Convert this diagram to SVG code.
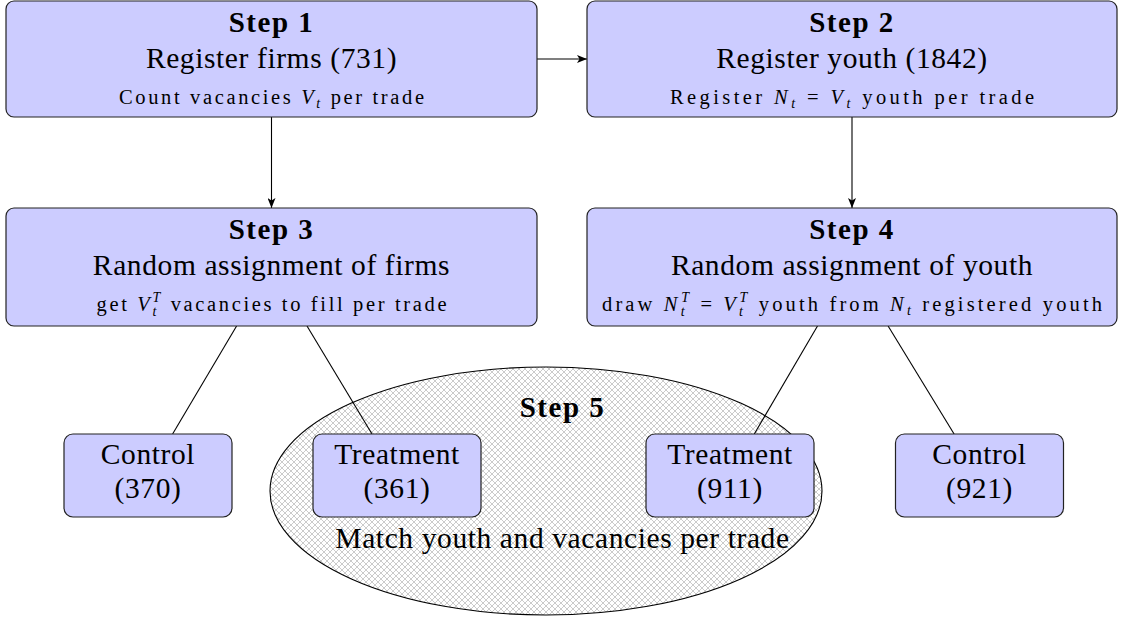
<svg xmlns="http://www.w3.org/2000/svg" width="1121" height="618" viewBox="0 0 1121 618">
<defs>
<style>
.box{fill:#ccccff;stroke:#222;stroke-width:1.2}
.t{font-family:"Liberation Serif",serif;fill:#000;text-anchor:middle}
.b{font-size:29px;font-weight:bold;letter-spacing:1.5px}
.m{font-size:29.5px;letter-spacing:0.6px}
.s{font-size:20.5px}
.it{font-style:italic}
.sb{font-size:14px;font-style:italic}
.ln{stroke:#000;stroke-width:1.1;fill:none}
</style>
<pattern id="hatch" width="6" height="6" patternUnits="userSpaceOnUse">
<rect width="6" height="6" fill="#fff"/>
<path d="M0,0L6,6M0,6L6,0" stroke="#b4b4b4" stroke-width="0.7"/>
</pattern>
<marker id="arr" viewBox="0 0 10 8" refX="10" refY="4" markerWidth="10" markerHeight="8" markerUnits="userSpaceOnUse" orient="auto">
<path d="M0,0L10,4L0,8L2.5,4Z" fill="#000"/>
</marker>
</defs>
<g id="step5">
<ellipse cx="546" cy="491" rx="276" ry="124" fill="url(#hatch)" stroke="#000" stroke-width="1.1"/>
<text class="t b" x="562.5" y="417">Step 5</text>
<text class="t m" x="562.5" y="548">Match youth and vacancies per trade</text>
</g>
<g id="connectors">
<line class="ln" x1="537" y1="59" x2="587" y2="59" marker-end="url(#arr)"/>
<line class="ln" x1="271.5" y1="117" x2="271.5" y2="208" marker-end="url(#arr)"/>
<line class="ln" x1="852" y1="117" x2="852" y2="208" marker-end="url(#arr)"/>
<line class="ln" x1="236.6" y1="326" x2="172.6" y2="434"/>
<line class="ln" x1="307" y1="326" x2="372" y2="434"/>
<line class="ln" x1="817.5" y1="326" x2="754.3" y2="434"/>
<line class="ln" x1="888.1" y1="326" x2="954.1" y2="434"/>
</g>
<g id="step1">
<rect class="box" x="6" y="1" width="531" height="116" rx="8"/>
<text class="t b" x="271.5" y="32">Step 1</text>
<text class="t m" x="271.5" y="68">Register firms (731)</text>
<text class="t s" x="271.5" y="104" textLength="305">Count vacancies <tspan class="it">V</tspan><tspan class="sb" dy="4">t</tspan><tspan dy="-4"> per trade</tspan></text>
</g>
<g id="step2">
<rect class="box" x="587" y="1" width="530" height="116" rx="8"/>
<text class="t b" x="852" y="32">Step 2</text>
<text class="t m" x="852" y="68">Register youth (1842)</text>
<text class="t s" x="852" y="104" textLength="364">Register <tspan class="it">N</tspan><tspan class="sb" dy="4">t</tspan><tspan dy="-4"> = </tspan><tspan class="it">V</tspan><tspan class="sb" dy="4">t</tspan><tspan dy="-4"> youth per trade</tspan></text>
</g>
<g id="step3">
<rect class="box" x="6" y="208" width="531" height="118" rx="8"/>
<text class="t b" x="271.5" y="239">Step 3</text>
<text class="t m" x="271.5" y="275">Random assignment of firms</text>
<text class="t s" x="271.5" y="311" textLength="350">get <tspan class="it">V</tspan><tspan class="sb" dy="5">t</tspan><tspan class="sb" dx="-6.5" dy="-14">T</tspan><tspan dy="9"> vacancies to fill per trade</tspan></text>
</g>
<g id="step4">
<rect class="box" x="587" y="208" width="530" height="118" rx="8"/>
<text class="t b" x="852" y="239">Step 4</text>
<text class="t m" x="852" y="275">Random assignment of youth</text>
<text class="t s" x="852" y="311" textLength="500">draw <tspan class="it">N</tspan><tspan class="sb" dy="5">t</tspan><tspan class="sb" dx="-6.5" dy="-14">T</tspan><tspan dy="9"> = </tspan><tspan class="it">V</tspan><tspan class="sb" dy="5">t</tspan><tspan class="sb" dx="-6.5" dy="-14">T</tspan><tspan dy="9"> youth from </tspan><tspan class="it">N</tspan><tspan class="sb" dy="4">t</tspan><tspan dy="-4"> registered youth</tspan></text>
</g>
<g id="control1">
<rect class="box" x="64" y="434" width="168" height="83" rx="9"/>
<text class="t m" x="148" y="464">Control</text>
<text class="t m" x="148" y="498">(370)</text>
</g>
<g id="treatment1">
<rect class="box" x="313" y="434" width="168" height="83" rx="9"/>
<text class="t m" x="397" y="464">Treatment</text>
<text class="t m" x="397" y="498">(361)</text>
</g>
<g id="treatment2">
<rect class="box" x="646" y="434" width="168" height="83" rx="9"/>
<text class="t m" x="730" y="464">Treatment</text>
<text class="t m" x="730" y="498">(911)</text>
</g>
<g id="control2">
<rect class="box" x="895.5" y="434" width="168" height="83" rx="9"/>
<text class="t m" x="979.5" y="464">Control</text>
<text class="t m" x="979.5" y="498">(921)</text>
</g>
</svg>
